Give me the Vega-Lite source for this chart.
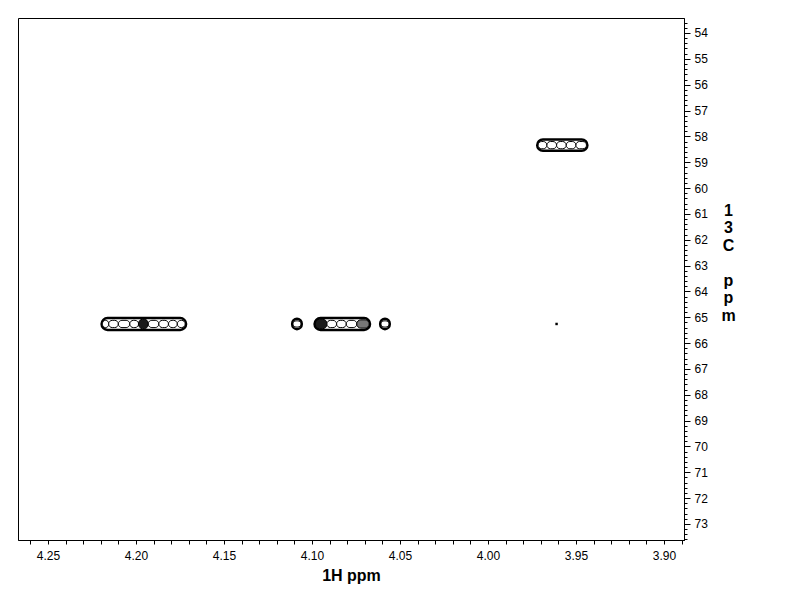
{
  "$schema": "https://vega.github.io/schema/vega-lite/v6.json",
  "autosize": "none",
  "width": 666,
  "height": 522,
  "padding": {"left": 18, "top": 18, "right": 108, "bottom": 72},
  "background": "white",
  "config": {
    "view": {"stroke": "black", "strokeWidth": 1},
    "axis": {
      "labelFont": "Liberation Sans",
      "titleFont": "Liberation Sans",
      "domainColor": "black",
      "tickColor": "black",
      "labelColor": "black",
      "titleColor": "black",
      "grid": false,
      "labelOverlap": false,
      "labelBound": false,
      "labelFlush": false
    }
  },
  "datasets": {
    "outer": [
      {"h1": 4.2195, "h2": 4.1715, "c1": 65.03, "c2": 65.49},
      {"h1": 4.1112, "h2": 4.1058, "c1": 65.06, "c2": 65.46},
      {"h1": 4.0985, "h2": 4.0670, "c1": 65.03, "c2": 65.49},
      {"h1": 4.0612, "h2": 4.0558, "c1": 65.06, "c2": 65.46},
      {"h1": 3.9720, "h2": 3.9435, "c1": 58.12, "c2": 58.56}
    ],
    "inner": [
      {"h1": 4.2190, "h2": 4.2155, "c1": 65.12, "c2": 65.40, "intensity": 0.0},
      {"h1": 4.2155, "h2": 4.2100, "c1": 65.12, "c2": 65.40, "intensity": 0.0},
      {"h1": 4.2100, "h2": 4.2035, "c1": 65.12, "c2": 65.40, "intensity": 0.0},
      {"h1": 4.2035, "h2": 4.1985, "c1": 65.12, "c2": 65.40, "intensity": 0.0},
      {"h1": 4.1985, "h2": 4.1930, "c1": 65.08, "c2": 65.44, "intensity": 0.9},
      {"h1": 4.1930, "h2": 4.1870, "c1": 65.12, "c2": 65.40, "intensity": 0.0},
      {"h1": 4.1870, "h2": 4.1815, "c1": 65.12, "c2": 65.40, "intensity": 0.0},
      {"h1": 4.1815, "h2": 4.1765, "c1": 65.12, "c2": 65.40, "intensity": 0.0},
      {"h1": 4.1765, "h2": 4.1720, "c1": 65.12, "c2": 65.40, "intensity": 0.0},
      {"h1": 4.1108, "h2": 4.1062, "c1": 65.14, "c2": 65.38, "intensity": 0.0},
      {"h1": 4.0980, "h2": 4.0915, "c1": 65.08, "c2": 65.44, "intensity": 0.9},
      {"h1": 4.0915, "h2": 4.0860, "c1": 65.12, "c2": 65.40, "intensity": 0.0},
      {"h1": 4.0860, "h2": 4.0805, "c1": 65.12, "c2": 65.40, "intensity": 0.0},
      {"h1": 4.0805, "h2": 4.0745, "c1": 65.12, "c2": 65.40, "intensity": 0.0},
      {"h1": 4.0745, "h2": 4.0675, "c1": 65.10, "c2": 65.42, "intensity": 0.5},
      {"h1": 4.0608, "h2": 4.0562, "c1": 65.14, "c2": 65.38, "intensity": 0.0},
      {"h1": 3.9715, "h2": 3.9665, "c1": 58.20, "c2": 58.48, "intensity": 0.0},
      {"h1": 3.9665, "h2": 3.9610, "c1": 58.20, "c2": 58.48, "intensity": 0.0},
      {"h1": 3.9610, "h2": 3.9555, "c1": 58.20, "c2": 58.48, "intensity": 0.0},
      {"h1": 3.9555, "h2": 3.9500, "c1": 58.20, "c2": 58.48, "intensity": 0.0},
      {"h1": 3.9500, "h2": 3.9440, "c1": 58.20, "c2": 58.48, "intensity": 0.0}
    ],
    "dots": [
      {"h1": 3.961, "c1": 65.26}
    ]
  },
  "encoding": {
    "x": {
      "field": "h1", "type": "quantitative",
      "scale": {"domain": [3.8886, 4.267], "reverse": true, "nice": false, "zero": false},
      "axis": {
        "title": "1H ppm",
        "titleFontSize": 16,
        "titleFontWeight": "bold",
        "titlePadding": 6,
        "tickCount": 38,
        "tickSize": 4,
        "labelFontSize": 12,
        "labelPadding": 6,
        "labelExpr": "abs(datum.value*20 - round(datum.value*20)) < 1e-6 ? format(datum.value, '.2f') : ''"
      }
    },
    "y": {
      "field": "c1", "type": "quantitative",
      "scale": {"domain": [53.42, 73.62], "reverse": true, "nice": false, "zero": false},
      "axis": {
        "orient": "right",
        "title": ["1", "3", "C", "\u200b", "p", "p", "m"],
        "titleAngle": 0,
        "titleFontSize": 16,
        "titleFontWeight": "bold",
        "titleLineHeight": 17.5,
        "titleAlign": "center",
        "titleBaseline": "top",
        "titleX": 44,
        "titleY": 184,
        "tickCount": 101,
        "tickSize": {"condition": {"test": "abs(datum.value - round(datum.value)) < 1e-6", "value": 6}, "value": 3},
        "labelFontSize": 12,
        "labelPadding": 4,
        "labelExpr": "abs(datum.value - round(datum.value)) < 1e-6 ? format(datum.value, 'd') : ''"
      }
    }
  },
  "layer": [
    {
      "data": {"name": "outer"},
      "mark": {"type": "rect", "cornerRadius": 6, "fill": "white", "stroke": "black", "strokeWidth": 2.5},
      "encoding": {
        "x2": {"field": "h2"},
        "y2": {"field": "c2"}
      }
    },
    {
      "data": {"name": "inner"},
      "mark": {"type": "rect", "cornerRadius": 4, "stroke": "black", "strokeWidth": 1},
      "encoding": {
        "x2": {"field": "h2"},
        "y2": {"field": "c2"},
        "fill": {"field": "intensity", "type": "quantitative", "scale": {"domain": [0, 1], "range": ["white", "black"]}, "legend": null}
      }
    },
    {
      "data": {"name": "dots"},
      "mark": {"type": "square", "size": 6, "color": "black", "opacity": 1}
    }
  ]
}
